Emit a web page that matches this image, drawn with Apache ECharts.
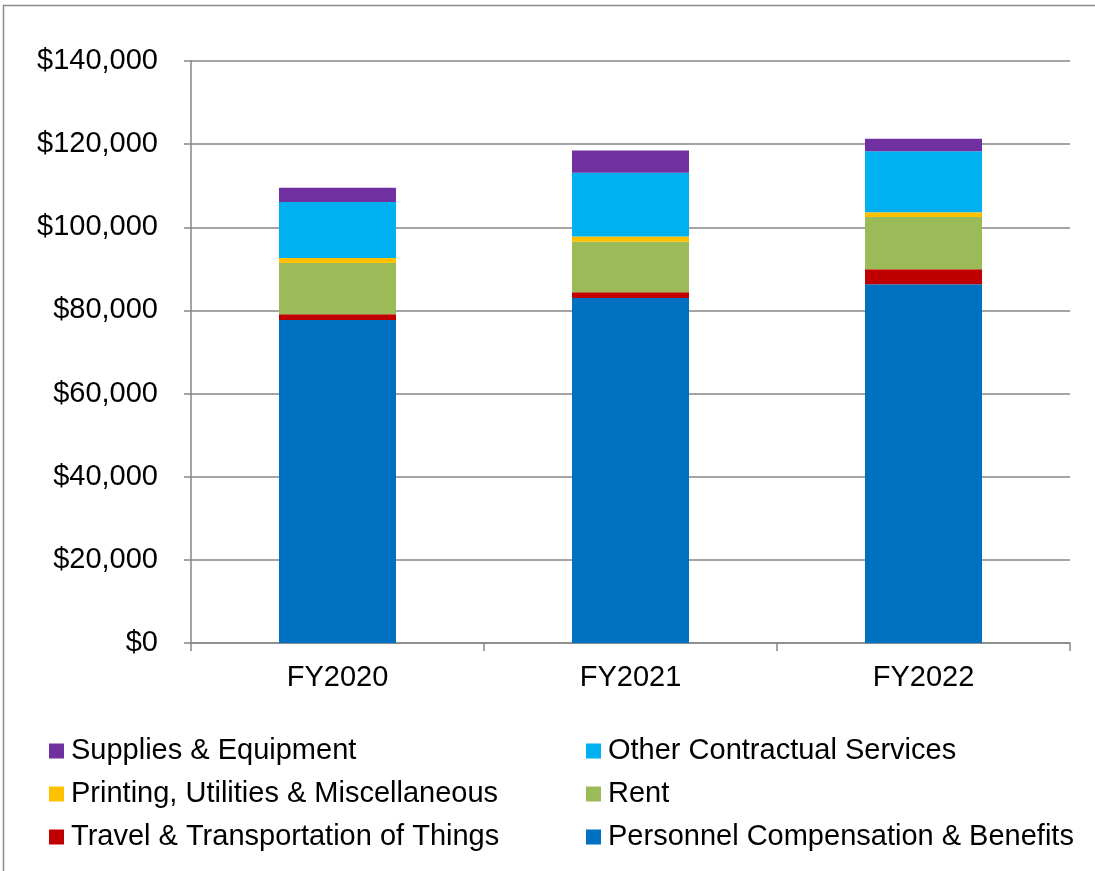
<!DOCTYPE html>
<html>
<head>
<meta charset="utf-8">
<script src="https://cdn.jsdelivr.net/npm/echarts@6/dist/echarts.min.js"></script>
<style>
  html, body { margin: 0; padding: 0; background: #fff; }
  #chart { width: 1095px; height: 871px; }
</style>
</head>
<body>
<div id="chart"></div>
<script>
// Fiscal years on the category axis
const categories = ['FY2020', 'FY2021', 'FY2022'];

// Spending by object class (dollars), stacked bottom to top
const personnel = [77700, 83000, 86300];
const travel = [1400, 1400, 3600];
const rent = [12300, 12100, 12600];
const printing = [1200, 1300, 1100];
const otherServices = [13500, 15300, 14700];
const supplies = [3400, 5400, 3000];

// Value axis ticks
const yTicks = [0, 20000, 40000, 60000, 80000, 100000, 120000, 140000];

const seriesDefs = [
  { name: 'Personnel Compensation & Benefits', data: personnel, color: '#0070C0' },
  { name: 'Travel & Transportation of Things', data: travel, color: '#C00000' },
  { name: 'Rent', data: rent, color: '#9BBB59' },
  { name: 'Printing, Utilities & Miscellaneous', data: printing, color: '#FFC000' },
  { name: 'Other Contractual Services', data: otherServices, color: '#00B0F0' },
  { name: 'Supplies & Equipment', data: supplies, color: '#7030A0' }
];

// Legend layout: two columns, three rows
const legendSlots = [
  { name: 'Supplies & Equipment', left: 49, top: 736 },
  { name: 'Other Contractual Services', left: 586, top: 736 },
  { name: 'Printing, Utilities & Miscellaneous', left: 49, top: 779 },
  { name: 'Rent', left: 586, top: 779 },
  { name: 'Travel & Transportation of Things', left: 49, top: 822 },
  { name: 'Personnel Compensation & Benefits', left: 586, top: 822 }
];

const font = '"Liberation Sans", Arial, sans-serif';
const fontSize = 29;
const chart = echarts.init(document.getElementById('chart'), null, { renderer: 'canvas' });

const fmt = v => '$' + v.toLocaleString('en-US');

chart.setOption({
  animation: false,
  backgroundColor: '#fff',
  graphic: [{
    type: 'rect',
    shape: { x: 3.5, y: 5.5, width: 1200, height: 1000 },
    style: { fill: 'none', stroke: '#8c8c8c', lineWidth: 1.5 },
    silent: true
  }],
  grid: { left: 191, right: 25, top: 61, bottom: 228, containLabel: false },
  legend: legendSlots.map(s => ({
    data: [s.name],
    left: s.left,
    top: s.top,
    padding: 0,
    itemWidth: 15,
    itemHeight: 15,
    itemGap: 0,
    icon: 'rect',
    textStyle: { fontFamily: font, fontSize: fontSize, lineHeight: 30, color: '#000', padding: [0, 0, 0, 2] },
    selectedMode: false
  })),
  xAxis: {
    type: 'category',
    data: categories,
    axisLine: { lineStyle: { color: '#868686', width: 1.5 } },
    axisTick: { show: true, length: 8, lineStyle: { color: '#868686', width: 1.5 } },
    axisLabel: { fontFamily: font, fontSize: fontSize, color: '#000', margin: 20 }
  },
  yAxis: {
    type: 'value',
    min: yTicks[0],
    max: yTicks[yTicks.length - 1],
    interval: yTicks[1] - yTicks[0],
    axisLine: { show: true, lineStyle: { color: '#868686', width: 1.5 } },
    axisTick: { show: true, length: 7, lineStyle: { color: '#868686', width: 1.5 } },
    splitLine: { lineStyle: { color: '#868686', width: 1.5 } },
    axisLabel: { fontFamily: font, fontSize: fontSize, color: '#000', margin: 33, formatter: fmt }
  },
  series: seriesDefs.map(s => ({
    name: s.name,
    type: 'bar',
    stack: 'total',
    data: s.data,
    barWidth: 117,
    itemStyle: { color: s.color }
  }))
});
</script>
</body>
</html>
